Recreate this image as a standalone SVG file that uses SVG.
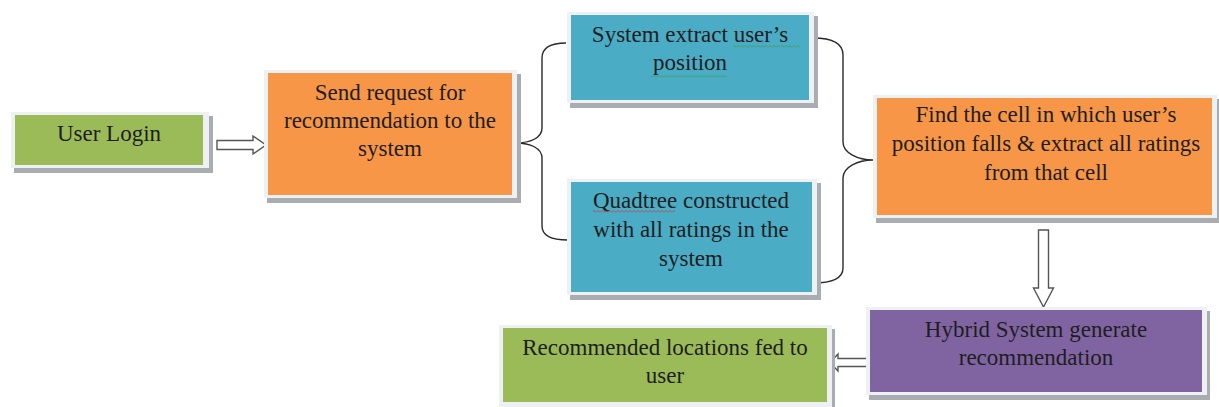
<svg xmlns="http://www.w3.org/2000/svg" width="1219" height="407" viewBox="0 0 1219 407">
  <style>
    .frame { fill: #eef1f3; }
    .shadow { fill: #a9adb1; }
    .green { fill: #9bbb59; }
    .orange { fill: #f79646; }
    .blue { fill: #4bacc6; }
    .purple { fill: #8064a2; }
    .label { font-family: "Liberation Serif", serif; font-size: 23px; fill: #1e1e1e; text-anchor: middle; }
    .brace { fill: none; stroke: #2a2a2a; stroke-width: 1.4; }
    .block { fill: #ffffff; stroke: #555555; stroke-width: 1.4; stroke-linejoin: miter; }
  </style>
  <defs>
    <pattern id="wavyGreen" patternUnits="userSpaceOnUse" width="4" height="3">
      <path d="M0,2.5 L2,0.5 L4,2.5" fill="none" stroke="#3f9b3f" stroke-width="0.8"/>
    </pattern>
    <pattern id="wavyRed" patternUnits="userSpaceOnUse" width="4" height="3">
      <path d="M0,2.5 L2,0.5 L4,2.5" fill="none" stroke="#d83030" stroke-width="0.8"/>
    </pattern>
  </defs>

  <rect width="1219" height="407" fill="#ffffff"/>

  <!-- Connectors: braces and block arrows -->
  <g id="connectors">
    <path class="brace" d="M566,43 C552,43 542,47 542,58 L542,128 C542,138 530,143 516,143 C530,143 542,148 542,158 L542,226 C542,236 552,240 568,240"/>
    <path class="brace" d="M813,38 C830,38 843,42 843,55 L843,142 C843,153 858,160 873,160 C858,160 843,167 843,178 L843,268 C843,280 830,283 813,283"/>
    <path class="block" d="M217,140.5 L253,140.5 L253,136 L266,145 L253,154 L253,149.5 L217,149.5 Z"/>
    <path class="block" d="M1038.5,230 L1048.5,230 L1048.5,288 L1053.5,288 L1043.5,307 L1033.5,288 L1038.5,288 Z"/>
    <path class="block" d="M867,358.5 L838,358.5 L838,354 L830,362.5 L838,371 L838,366.5 L867,366.5 Z"/>
  </g>

  <!-- User Login -->
  <g id="node-login">
    <rect class="shadow" x="14" y="116" width="199" height="57"/>
    <rect class="frame" x="11" y="112" width="198" height="56"/>
    <rect class="green" x="15" y="115" width="188" height="50"/>
    <text class="label" font-family="Liberation Serif" x="109" y="141">User Login</text>
  </g>

  <!-- Send request -->
  <g id="node-request">
    <rect class="shadow" x="267" y="74" width="254" height="129"/>
    <rect class="frame" x="264" y="70" width="253" height="128"/>
    <rect class="orange" x="268" y="73" width="244" height="122"/>
    <text class="label" font-family="Liberation Serif" x="390" y="100">Send request for</text>
    <text class="label" font-family="Liberation Serif" x="390" y="128">recommendation to the</text>
    <text class="label" font-family="Liberation Serif" x="390" y="156">system</text>
  </g>

  <!-- Extract position -->
  <g id="node-position">
    <rect class="shadow" x="570" y="16" width="248" height="92"/>
    <rect class="frame" x="567" y="12" width="247" height="91"/>
    <rect class="blue" x="571" y="15" width="238" height="85"/>
    <text class="label" font-family="Liberation Serif" x="690" y="42">System extract user&#8217;s</text>
    <text class="label" font-family="Liberation Serif" x="690" y="70">position</text>
    <rect x="733" y="45" width="67" height="3" fill="url(#wavyGreen)"/>
    <rect x="651" y="75" width="76" height="3" fill="url(#wavyGreen)"/>
  </g>

  <!-- Quadtree -->
  <g id="node-quadtree">
    <rect class="shadow" x="570" y="183" width="251" height="117"/>
    <rect class="frame" x="567" y="179" width="250" height="116"/>
    <rect class="blue" x="571" y="182" width="241" height="110"/>
    <text class="label" font-family="Liberation Serif" x="691" y="208">Quadtree constructed</text>
    <text class="label" font-family="Liberation Serif" x="691" y="237">with all ratings in the</text>
    <text class="label" font-family="Liberation Serif" x="691" y="266">system</text>
    <rect x="593" y="210" width="82" height="3" fill="url(#wavyRed)"/>
  </g>

  <!-- Find cell -->
  <g id="node-cell">
    <rect class="shadow" x="876" y="99" width="345" height="124"/>
    <rect class="frame" x="873" y="95" width="344" height="123"/>
    <rect class="orange" x="877" y="98" width="335" height="117"/>
    <text class="label" font-family="Liberation Serif" x="1046" y="122">Find the cell in which user&#8217;s</text>
    <text class="label" font-family="Liberation Serif" x="1046" y="151">position falls &amp; extract all ratings</text>
    <text class="label" font-family="Liberation Serif" x="1046" y="180">from that cell</text>
  </g>

  <!-- Hybrid system -->
  <g id="node-hybrid">
    <rect class="shadow" x="869" y="311" width="341" height="89"/>
    <rect class="frame" x="866" y="307" width="341" height="88"/>
    <rect class="purple" x="870" y="310" width="332" height="82"/>
    <text class="label" font-family="Liberation Serif" x="1036" y="337">Hybrid System generate</text>
    <text class="label" font-family="Liberation Serif" x="1036" y="365">recommendation</text>
  </g>

  <!-- Recommended locations -->
  <g id="node-result">
    <rect class="shadow" x="502" y="329" width="333" height="80"/>
    <rect class="frame" x="499" y="325" width="333" height="82"/>
    <rect class="green" x="503" y="328" width="324" height="74"/>
    <text class="label" font-family="Liberation Serif" x="665" y="355">Recommended locations fed to</text>
    <text class="label" font-family="Liberation Serif" x="665" y="383">user</text>
  </g>
</svg>
